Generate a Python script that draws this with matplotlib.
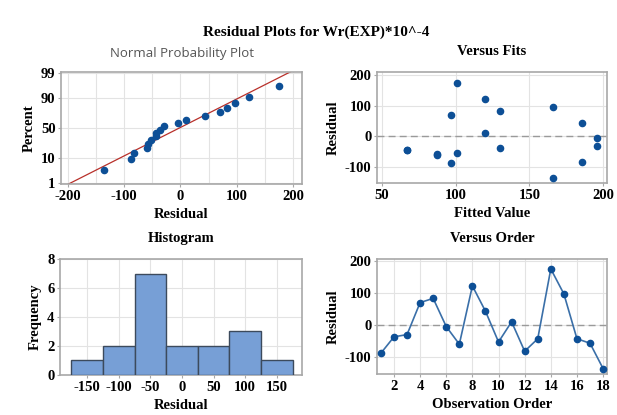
import numpy as np
import matplotlib
matplotlib.use("Agg")
import matplotlib.pyplot as plt
from statistics import NormalDist

# residuals in observation order and their fitted values
order = list(range(1, 19))
residuals = [-88, -37, -30, 70, 83, -5, -60, 122, 43, -53, 10, -82, -43, 175, 97, -43, -57, -136]
fits = [97, 130, 196, 97, 130, 196, 87, 120, 186, 101, 120, 186, 67, 101, 166, 67, 87, 166]
hist_bins = [-175, -125, -75, -25, 25, 75, 125, 175]
pct_ticks = [1, 10, 50, 90, 99]

plt.rcParams['font.family'] = 'Liberation Serif'
plt.rcParams['font.weight'] = 'bold'
plt.rcParams['font.size'] = 10
plt.rcParams['axes.unicode_minus'] = False

dot = '#0d4f96'
spine_col = '#a8a8a8'
grid_col = '#e3e3e3'

fig = plt.figure(figsize=(6.17, 4.15), dpi=100)
fig.patch.set_facecolor('white')

ax1 = fig.add_axes([0.0989, 0.5566, 0.3906, 0.2699])
ax2 = fig.add_axes([0.611, 0.559, 0.3728, 0.2675])
ax3 = fig.add_axes([0.0972, 0.0964, 0.3923, 0.2795])
ax4 = fig.add_axes([0.611, 0.0988, 0.3728, 0.2771])


def style(ax):
    for s in ax.spines.values():
        s.set_color(spine_col)
        s.set_linewidth(1.2)
    ax.grid(True, color=grid_col, linewidth=0.8)
    ax.set_axisbelow(True)
    ax.tick_params(length=2, color=spine_col, pad=2, labelsize=10.5)
    for lab in ax.get_xticklabels() + ax.get_yticklabels():
        lab.set_fontweight('bold')


# Normal probability plot
nd = NormalDist()
n = len(residuals)
xs = np.sort(residuals)
zs = [nd.inv_cdf((i - 0.3) / (n + 0.4)) for i in range(1, n + 1)]
mu = np.mean(residuals)
sd = np.std(residuals, ddof=1)
zline = np.array([-2.6, 2.6])
ax1.plot(mu + sd * zline, zline, color='#b8302a', linewidth=0.9)
ax1.scatter(xs, zs, s=20, color=dot, zorder=3)
ax1.set_xlim(-212, 216)
ax1.set_ylim(-2.37, 2.37)
ax1.set_xticks([-200, -100, 0, 100, 200])
ax1.set_xticks([-150, -50, 50, 150], minor=True)
ax1.set_yticks([nd.inv_cdf(p / 100) for p in pct_ticks])
ax1.set_yticklabels([str(p) for p in pct_ticks])
ax1.tick_params(which='minor', length=0)
ax1.grid(True, which='minor', color=grid_col, linewidth=0.8)
style(ax1)
ax1.set_title('Normal Probability Plot', fontsize=9.5, fontweight='normal',
              family='Open Sans', color='#555555', pad=11)
ax1.set_xlabel('Residual', fontsize=10.5, fontweight='bold', labelpad=4)
ax1.set_ylabel('Percent', fontsize=10.5, fontweight='bold', labelpad=4)

# Versus fits
ax2.scatter(fits, residuals, s=20, color=dot, zorder=3)
ax2.axhline(0, color='#9a9a9a', linestyle=(0, (5, 3)), linewidth=1)
ax2.set_xlim(46.6, 202.7)
ax2.set_ylim(-152, 210)
ax2.set_xticks([50, 100, 150, 200])
ax2.set_yticks([-100, 0, 100, 200])
style(ax2)
ax2.set_title('Versus Fits', fontsize=10.5, fontweight='bold', pad=12)
ax2.set_xlabel('Fitted Value', fontsize=10.5, fontweight='bold', labelpad=4)
ax2.set_ylabel('Residual', fontsize=10.5, fontweight='bold', labelpad=4)

# Histogram
ax3.hist(residuals, bins=hist_bins, color='#779fd6', edgecolor='#3c4a5c', linewidth=1, zorder=3)
ax3.set_xlim(-193, 190)
ax3.set_ylim(0, 8)
ax3.set_xticks([-150, -100, -50, 0, 50, 100, 150])
ax3.set_yticks([0, 2, 4, 6, 8])
style(ax3)
ax3.set_title('Histogram', fontsize=10.5, fontweight='bold', pad=12)
ax3.set_xlabel('Residual', fontsize=10.5, fontweight='bold', labelpad=4)
ax3.set_ylabel('Frequency', fontsize=10.5, fontweight='bold', labelpad=4)

# Versus order
ax4.plot(order, residuals, color='#3a6fa8', linewidth=1.2, marker='o', markersize=4.5,
         markerfacecolor=dot, markeredgecolor=dot, zorder=3)
ax4.axhline(0, color='#9a9a9a', linestyle=(0, (5, 3)), linewidth=1)
ax4.set_xlim(0.7, 18.3)
ax4.set_ylim(-153, 206)
ax4.set_xticks(range(2, 19, 2))
ax4.set_yticks([-100, 0, 100, 200])
style(ax4)
ax4.set_title('Versus Order', fontsize=10.5, fontweight='bold', pad=12)
ax4.set_xlabel('Observation Order', fontsize=10.5, fontweight='bold', labelpad=4)
ax4.set_ylabel('Residual', fontsize=10.5, fontweight='bold', labelpad=4)

fig.text(0.513, 0.922, 'Residual Plots for Wr(EXP)*10^-4', ha='center', va='center',
         fontsize=11, fontweight='bold')

fig.savefig('out.png', dpi=100)
